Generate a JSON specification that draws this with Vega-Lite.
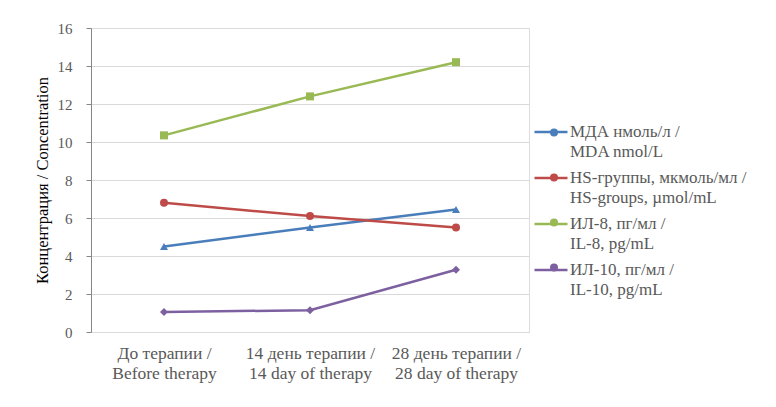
{
  "$schema": "https://vega.github.io/schema/vega-lite/v6.json",
  "width": 438,
  "height": 304,
  "autosize": "none",
  "padding": {"left": 91, "top": 28, "right": 247, "bottom": 75},
  "background": "white",
  "data": {
    "values": [
      {"period": "До терапии /|Before therapy", "series": "МДА нмоль/л /|MDA nmol/L", "value": 4.5},
      {"period": "14 день терапии /|14 day of therapy", "series": "МДА нмоль/л /|MDA nmol/L", "value": 5.5},
      {"period": "28 день терапии /|28 day of therapy", "series": "МДА нмоль/л /|MDA nmol/L", "value": 6.45},
      {"period": "До терапии /|Before therapy", "series": "HS-группы, мкмоль/мл /|HS-groups, µmol/mL", "value": 6.8},
      {"period": "14 день терапии /|14 day of therapy", "series": "HS-группы, мкмоль/мл /|HS-groups, µmol/mL", "value": 6.1},
      {"period": "28 день терапии /|28 day of therapy", "series": "HS-группы, мкмоль/мл /|HS-groups, µmol/mL", "value": 5.5},
      {"period": "До терапии /|Before therapy", "series": "ИЛ-8, пг/мл /|IL-8, pg/mL", "value": 10.35},
      {"period": "14 день терапии /|14 day of therapy", "series": "ИЛ-8, пг/мл /|IL-8, pg/mL", "value": 12.4},
      {"period": "28 день терапии /|28 day of therapy", "series": "ИЛ-8, пг/мл /|IL-8, pg/mL", "value": 14.2},
      {"period": "До терапии /|Before therapy", "series": "ИЛ-10, пг/мл /|IL-10, pg/mL", "value": 1.05},
      {"period": "14 день терапии /|14 day of therapy", "series": "ИЛ-10, пг/мл /|IL-10, pg/mL", "value": 1.15},
      {"period": "28 день терапии /|28 day of therapy", "series": "ИЛ-10, пг/мл /|IL-10, pg/mL", "value": 3.28}
    ]
  },
  "encoding": {
    "x": {
      "field": "period",
      "type": "nominal",
      "sort": null,
      "scale": {"type": "point", "padding": 0.5},
      "axis": {
        "title": null,
        "labelAngle": 0,
        "labelExpr": "split(datum.label, '|')",
        "labelFont": "Liberation Serif",
        "labelFontSize": 17.5,
        "labelColor": "#595959",
        "labelLineHeight": 20,
        "labelPadding": 12,
        "ticks": false,
        "grid": false,
        "domainColor": "#d9d9d9",
        "domainWidth": 1
      }
    },
    "y": {
      "field": "value",
      "type": "quantitative",
      "scale": {"domain": [0, 16], "nice": false},
      "axis": {
        "title": "Концентрация / Concentration",
        "titleFont": "Liberation Serif",
        "titleFontSize": 16.5,
        "titleFontWeight": "normal",
        "titleColor": "#000000",
        "titlePadding": 7,
        "values": [0, 2, 4, 6, 8, 10, 12, 14, 16],
        "labelFont": "Liberation Serif",
        "labelFontSize": 15,
        "labelColor": "#595959",
        "labelPadding": 14,
        "tickColor": "#868686",
        "tickSize": 5,
        "domainColor": "#868686",
        "gridColor": "#d9d9d9",
        "gridWidth": 1
      }
    }
  },
  "layer": [
    {
      "mark": {"type": "line", "strokeWidth": 2.5},
      "encoding": {
        "detail": {"field": "series"},
        "stroke": {
          "field": "series",
          "type": "nominal",
          "sort": ["МДА нмоль/л /|MDA nmol/L", "HS-группы, мкмоль/мл /|HS-groups, µmol/mL", "ИЛ-8, пг/мл /|IL-8, pg/mL", "ИЛ-10, пг/мл /|IL-10, pg/mL"],
          "scale": {"range": ["#4a7ebb", "#be4b48", "#98b954", "#7d60a0"]},
          "legend": {
            "title": null,
            "orient": "none",
            "legendX": 442,
            "legendY": 86,
            "symbolType": "stroke",
            "symbolSize": 1089,
            "symbolStrokeWidth": 2.5,
            "labelExpr": "split(datum.label, '|')",
            "labelFont": "Liberation Serif",
            "labelFontSize": 17,
            "labelColor": "#595959",
            "labelLimit": 300,
            "labelOffset": 1,
            "rowPadding": -1,
            "encode": {
              "labels": {"update": {"lineHeight": {"value": 20}}}
            }
          }
        }
      }
    },
    {
      "mark": {"type": "point", "filled": true, "size": 64, "opacity": 1},
      "encoding": {
        "color": {
          "field": "series",
          "type": "nominal",
          "sort": ["МДА нмоль/л /|MDA nmol/L", "HS-группы, мкмоль/мл /|HS-groups, µmol/mL", "ИЛ-8, пг/мл /|IL-8, pg/mL", "ИЛ-10, пг/мл /|IL-10, pg/mL"],
          "scale": {"range": ["#4a7ebb", "#be4b48", "#98b954", "#7d60a0"]},
          "legend": {
            "title": null,
            "orient": "none",
            "legendX": 454.5,
            "legendY": 96,
            "labelExpr": "split(datum.label, '|')",
            "labelFont": "Liberation Serif",
            "labelFontSize": 17,
            "labelColor": "#595959",
            "labelOpacity": 0,
            "labelLimit": 300,
            "labelOffset": 2,
            "rowPadding": 8,
            "symbolSize": 64
          }
        },
        "shape": {
          "field": "series",
          "type": "nominal",
          "sort": ["МДА нмоль/л /|MDA nmol/L", "HS-группы, мкмоль/мл /|HS-groups, µmol/mL", "ИЛ-8, пг/мл /|IL-8, pg/mL", "ИЛ-10, пг/мл /|IL-10, pg/mL"],
          "scale": {"range": ["triangle-up", "circle", "square", "diamond"]},
          "legend": null
        }
      }
    }
  ]
}
